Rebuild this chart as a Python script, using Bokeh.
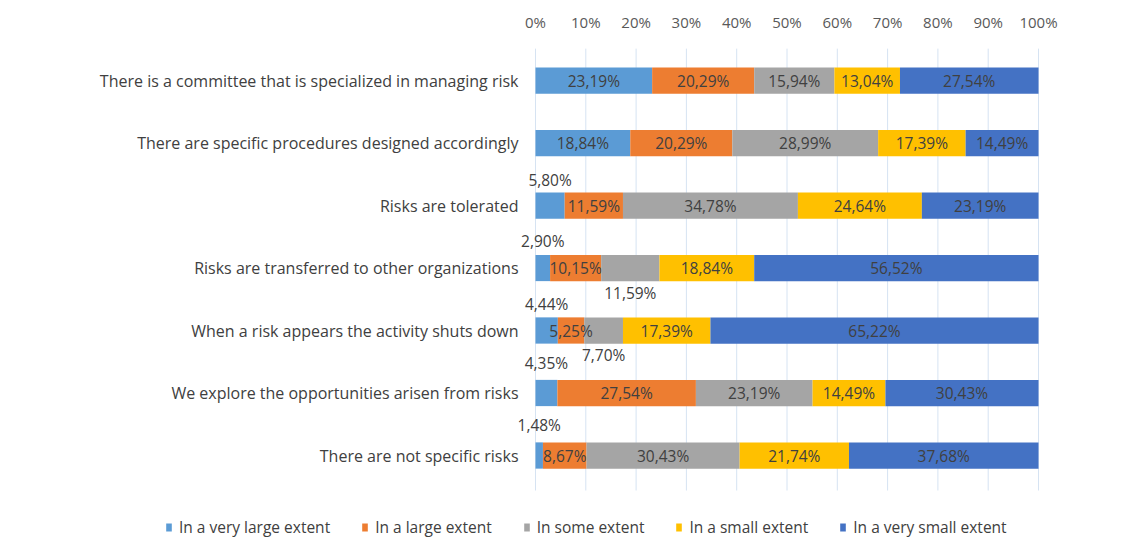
from bokeh.plotting import figure
from bokeh.models import ColumnDataSource, Range1d, Legend, LegendItem, FixedTicker
from bokeh.embed import file_html
from bokeh.resources import INLINE
from bokeh.core.properties import value

# ---------------- data ----------------
categories = [
    "There is a committee that is specialized in managing risk",
    "There are specific procedures designed accordingly",
    "Risks are tolerated",
    "Risks are transferred to other organizations",
    "When a risk appears the activity shuts down",
    "We explore the opportunities arisen from risks",
    "There are not specific risks",
]
series_names = [
    "In a very large extent",
    "In a large extent",
    "In some extent",
    "In a small extent",
    "In a very small extent",
]
very_large = [23.19, 18.84, 5.80, 2.90, 4.44, 4.35, 1.48]
large = [20.29, 20.29, 11.59, 10.15, 5.25, 27.54, 8.67]
some = [15.94, 28.99, 34.78, 11.59, 7.70, 23.19, 30.43]
small = [13.04, 17.39, 24.64, 18.84, 17.39, 14.49, 21.74]
very_small = [27.54, 14.49, 23.19, 56.52, 65.22, 30.43, 37.68]
x_ticks = [0, 10, 20, 30, 40, 50, 60, 70, 80, 90, 100]
tick_labels = ["0%", "10%", "20%", "30%", "40%", "50%", "60%", "70%", "80%", "90%", "100%"]

# ---------------- style / layout ----------------
colors = ["#5B9BD5", "#ED7D31", "#A5A5A5", "#FFC000", "#4472C4"]
keys = ["s0", "s1", "s2", "s3", "s4"]
# labels of small segments placed outside the bar: (row, series) -> pixel offset
outside = {(2, 0): -26, (3, 0): -27, (4, 0): -27, (5, 0): -30, (6, 0): -31,
           (3, 2): 25, (4, 2): 24}
FONT = "Open Sans"
TXT = "#404040"
W, H = 1140, 538
X0_PX, X100_PX = 535, 1038        # where 0% and 100% sit
TOP_PX = 40                        # frame top
ROW0_PX, ROW_STEP = 80, 62.5       # first row centre, row spacing

ppu = (X100_PX - X0_PX) / 100.0
x_start = -X0_PX / ppu
x_end = 100 + (W - X100_PX) / ppu
y_top = -(ROW0_PX - TOP_PX) / ROW_STEP
y_bot = (H - ROW0_PX) / ROW_STEP

rows = list(range(len(categories)))
series = [very_large, large, some, small, very_small]
data = {"row": rows, "cat": categories}
for k, s in zip(keys, series):
    data[k] = s
source = ColumnDataSource(data)

p = figure(width=W, height=H, output_backend="svg", toolbar_location=None,
           x_range=Range1d(x_start, x_end), y_range=Range1d(y_bot, y_top),
           x_axis_location="above", y_axis_location=None,
           min_border_left=0, min_border_right=0,
           min_border_top=TOP_PX, min_border_bottom=0)
p.outline_line_color = None
p.background_fill_color = "white"
p.border_fill_color = "white"
p.xgrid.grid_line_color = None
p.ygrid.grid_line_color = None

# vertical gridlines (only across the bar area)
p.segment(x0=x_ticks, x1=x_ticks, y0=[-0.51] * len(x_ticks), y1=[6.56] * len(x_ticks),
          line_color="#D6E3F2", line_width=1)

renderers = p.hbar_stack(keys, y="row", height=0.42, color=colors, source=source,
                         line_color=None)

# category labels
p.text(x=[0] * len(categories), y=rows, text=categories, x_offset=-17,
       text_align="right", text_baseline="middle",
       text_font=value(FONT), text_font_size="16px", text_color=TXT)

# segment labels
lx, ly, lt, loff = [], [], [], []
for i in rows:
    start = 0.0
    for j, s in enumerate(series):
        v = s[i]
        lx.append(start + v / 2)
        ly.append(i)
        lt.append(f"{v:.2f}".replace(".", ",") + "%")
        loff.append(outside.get((i, j), 0))
        start += v
lsrc = ColumnDataSource(dict(x=lx, y=ly, t=lt, off=loff))
p.text(x="x", y="y", text="t", y_offset="off", source=lsrc,
       text_align="center", text_baseline="middle",
       text_font=value(FONT), text_font_size="15.5px", text_color=TXT)

# top axis
xa = p.xaxis[0]
xa.ticker = FixedTicker(ticks=x_ticks)
xa.major_label_overrides = {t: l for t, l in zip(x_ticks, tick_labels)}
xa.axis_line_color = None
xa.major_tick_line_color = None
xa.minor_tick_line_color = None
xa.major_label_standoff = 3
xa.major_label_text_font = FONT
xa.major_label_text_font_size = "15px"
xa.major_label_text_color = "#595959"

legend = Legend(items=[LegendItem(label=n, renderers=[r]) for n, r in zip(series_names, renderers)],
                orientation="horizontal", location=(165, 0),
                border_line_color=None, background_fill_alpha=0,
                glyph_width=7, glyph_height=10, spacing=31, padding=0, margin=0,
                label_text_font=FONT, label_text_font_size="15.5px",
                label_text_color="#404040", label_standoff=7)
p.add_layout(legend, "center")

open("out.html", "w").write(file_html(p, INLINE))
